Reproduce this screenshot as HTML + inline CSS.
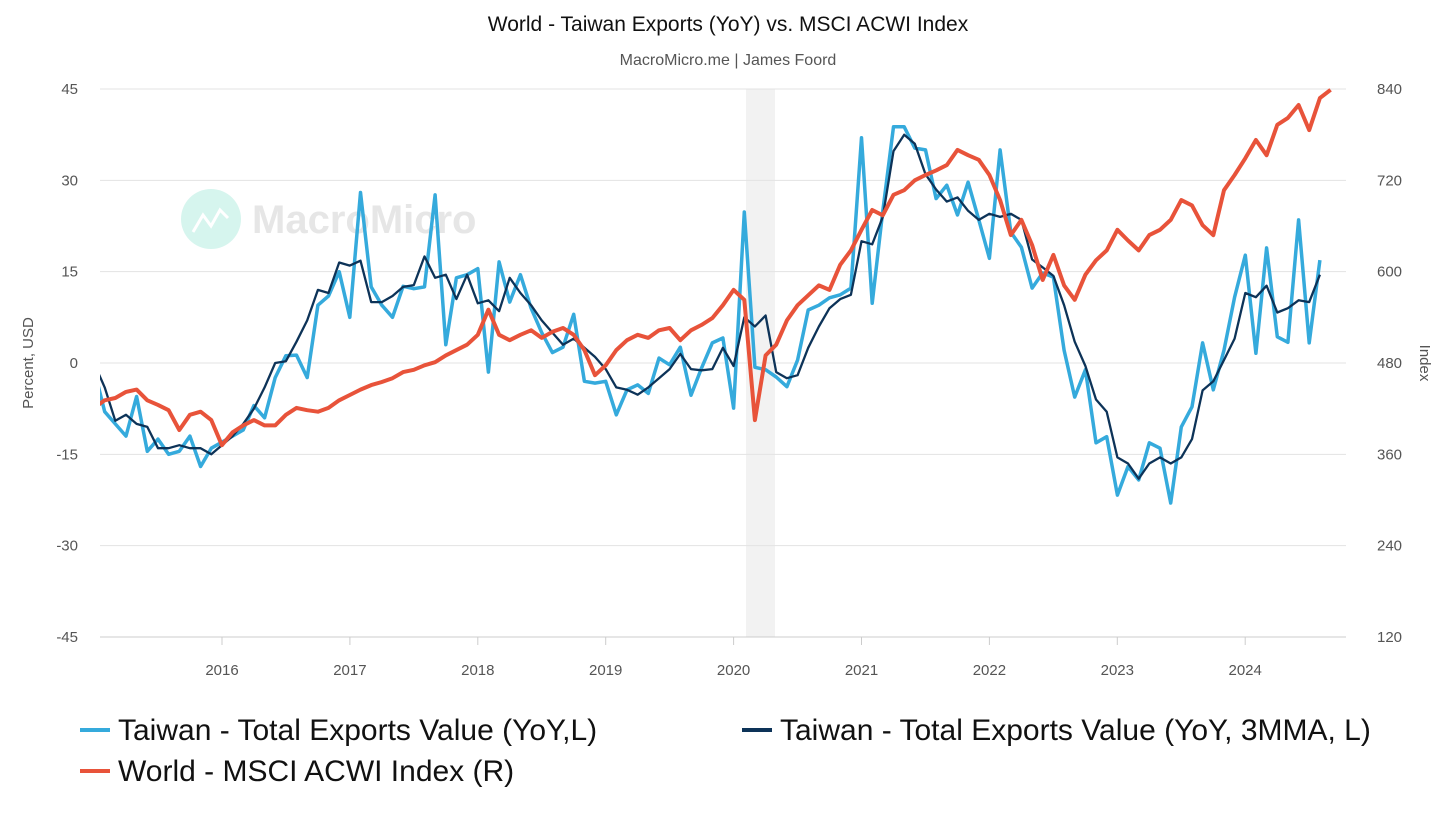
<!DOCTYPE html>
<html><head><meta charset="utf-8">
<style>
body{margin:0;background:#fff;font-family:"Liberation Sans",sans-serif;}
svg{display:block}
</style></head>
<body>
<svg id="chart" width="1456" height="819">
<text x="728" y="31" text-anchor="middle" font-size="21" fill="#111">World - Taiwan Exports (YoY) vs. MSCI ACWI Index</text>
<text x="728" y="65" text-anchor="middle" font-size="16" fill="#555">MacroMicro.me | James Foord</text>
<g>
<circle cx="211" cy="219" r="30" fill="#d6f5ee"/>
<polyline points="193,232 203,215 211,226 220,210 228,218" fill="none" stroke="#fff" stroke-width="3"/>
<text x="252" y="233" font-size="40" font-weight="bold" fill="#e6e6e6">MacroMicro</text>
</g>
<rect x="746" y="89" width="29" height="548" fill="#f2f2f2"/>
<g id="grid"></g>
<g id="axes"></g>
<g id="series"></g>
<text transform="translate(33,363) rotate(-90)" text-anchor="middle" font-size="15" fill="#555">Percent, USD</text>
<text transform="translate(1420,363) rotate(90)" text-anchor="middle" font-size="15" fill="#555">Index</text>
<g>
<g><line x1="80" y1="730" x2="110" y2="730" stroke="#35aadc" stroke-width="4"/><text x="118" y="740" font-size="30" fill="#111">Taiwan - Total Exports Value (YoY,L)</text></g>
<g><line x1="742" y1="730" x2="772" y2="730" stroke="#0d3358" stroke-width="4"/><text x="780" y="740" font-size="30" fill="#111">Taiwan - Total Exports Value (YoY, 3MMA, L)</text></g>
<g><line x1="80" y1="771" x2="110" y2="771" stroke="#e8533a" stroke-width="4"/><text x="118" y="781" font-size="30" fill="#111">World - MSCI ACWI Index (R)</text></g>
</g>
</svg>
<script>
const leftTicks=[45,30,15,0,-15,-30,-45];
const rightTicks=[840,720,600,480,360,240,120];
const yearTicks=[2016,2017,2018,2019,2020,2021,2022,2023,2024];
const exportsYoY=[-1,-8,-10,-12,-5.5,-14.5,-12.5,-15,-14.5,-12,-17,-14,
-13,-12,-11,-7,-9,-2.4,1.2,1.3,-2.4,9.5,11,15,
7.5,28,12.5,9.5,7.5,12.6,12.2,12.5,27.6,3,14,14.5,
15.5,-1.5,16.6,10,14.5,9,5,1.7,2.6,8,-3,-3.3,
-3,-8.5,-4.4,-3.6,-5,0.8,-0.3,2.6,-5.3,-0.8,3.3,4.1,
-7.4,24.8,-0.7,-1.1,-2.3,-3.9,0.5,8.7,9.5,10.7,11.2,12.3,
37,9.8,25,38.8,38.8,35.3,35,27,29.2,24.3,29.7,23.5,
17.2,35,21.5,19,12.3,14.8,14.1,2.1,-5.6,-1.1,-13.1,-12.1,
-21.7,-17,-19.2,-13.1,-14,-23,-10.5,-7.2,3.3,-4.4,2.1,10.8,
17.7,1.6,18.9,4.3,3.4,23.5,3.3,16.9];
const exports3mma=[0,-4,-9.5,-8.5,-10,-10.5,-14,-14,-13.5,-14,-14,-15,
-13.5,-12,-10,-7.5,-4,0,0.3,3.5,7,12,11.5,16.5,
16,16.8,10,10,11,12.5,12.8,17.5,14,14.5,10.5,14.5,9.8,
10.3,8.5,14,11.5,9.5,7,5,3,4,2.5,1,-1,-4,
-4.4,-5.2,-4,-2.5,-1,1.5,-1,-1.2,-1,2.5,-0.5,7.5,
6,7.8,-1.5,-2.5,-2,2.5,6,9,10.5,11.2,20,19.5,
24,34.8,37.5,36,31,28.5,26.5,27.2,25,23.5,24.5,24,
24.5,23.5,17,15.7,14.3,9.5,3.5,-0.5,-6,-8,-15.5,-16.5,
-19,-16.5,-15.5,-16.5,-15.5,-12.5,-4.5,-3,0.5,4,11.5,10.8,
12.7,8.3,9,10.3,10,14.5];
const msciIndex=[421,431,434,442,445,431,425,418,392,412,416,405,
372,389,398,405,398,398,412,421,418,416,421,431,
438,445,451,455,460,468,471,477,481,490,497,504,
517,550,517,510,517,523,513,521,526,517,497,464,
477,497,510,517,513,523,526,510,523,530,539,556,
576,563,405,490,504,536,556,569,582,576,609,628,
655,681,674,701,707,720,727,733,740,760,753,747,
727,694,648,668,635,589,622,582,563,596,615,628,
655,641,628,648,655,668,694,687,661,648,707,727,
749,773,753,793,802,819,786,828,839];
const NS='http://www.w3.org/2000/svg';
const X0=100,X1=1346,Y0=89,Y1=637;
const xScale=i=>94+i*10.66;
const yL=v=>363-v*(548/90);
const yR=v=>Y0+(840-v)*(548/720);
const xYear=y=>222+(y-2016)*127.9;
function mk(tag,attrs,parent){const e=document.createElementNS(NS,tag);for(const k in attrs)e.setAttribute(k,attrs[k]);parent.appendChild(e);return e;}
const grid=document.getElementById('grid'),axes=document.getElementById('axes'),ser=document.getElementById('series');
leftTicks.forEach((t,k)=>{
  const y=yL(t);
  const l=mk('line',{x1:X0,x2:X1,y1:y,y2:y,stroke:k==leftTicks.length-1?'#ccc':'#e3e3e3','stroke-width':1},grid);
  
  
  const tx=mk('text',{x:78,y:y+5,'text-anchor':'end','font-size':15,fill:'#555'},axes);
  tx.textContent=t;
  
  
});
rightTicks.forEach(t=>{
  const tx=mk('text',{x:1377,y:yR(t)+5,'font-size':15,fill:'#555'},axes);
  tx.textContent=t;
  
  
});
yearTicks.forEach(yr=>{
  const x=xYear(yr);
  mk('line',{x1:x,x2:x,y1:Y1,y2:Y1+8,stroke:'#ccc'},axes);
  const tx=mk('text',{x:x,y:675,'text-anchor':'middle','font-size':15,fill:'#555'},axes);
  tx.textContent=yr;
  
  
});
const clip=mk('clipPath',{id:'pc'},ser);mk('rect',{x:X0,y:Y0-10,width:X1-X0,height:Y1-Y0+20},clip);
function line(arr,yf,color,w,name){
  const p=mk('polyline',{points:arr.map((v,i)=>xScale(i).toFixed(1)+','+yf(v).toFixed(1)).join(' '),fill:'none',stroke:color,'stroke-width':w,'stroke-linejoin':'round','clip-path':'url(#pc)'},ser);
  
  
}
line(exportsYoY,yL,'#35aadc',3.5,'exports-yoy-line');
line(exports3mma,yL,'#0d3358',2.3,'exports-3mma-line');
line(msciIndex,yR,'#e8533a',4,'msci-acwi-line');
</script>
</body></html>
